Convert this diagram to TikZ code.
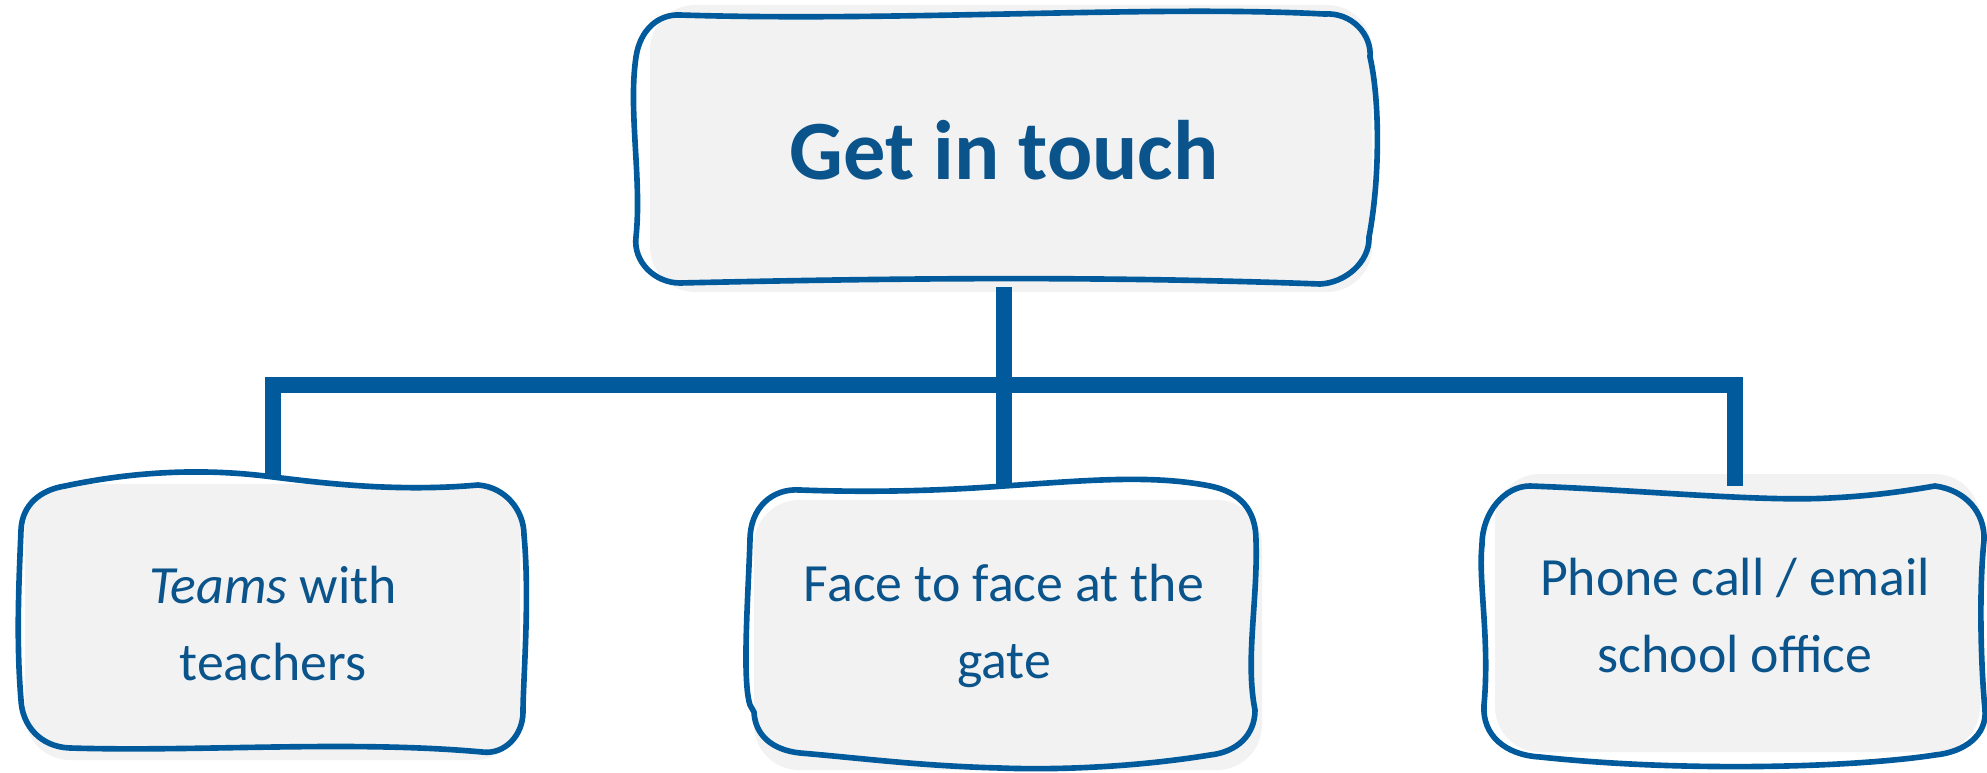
\documentclass[tikz,border=0pt]{standalone}
\usepackage{fontspec}
\setmainfont{Carlito}
\usepackage{xcolor}
\usepackage{tikz}

\definecolor{linkblue}{HTML}{005A9C}
\definecolor{inkblue}{HTML}{0A548B}
\definecolor{paper}{HTML}{F2F2F2}

\begin{document}
\begin{tikzpicture}[x=0.01cm, y=-0.01cm,
    link/.style={draw=linkblue, line width=4.55pt, line join=miter},
    sketch/.style={draw=linkblue, line width=1.6pt, line join=round, line cap=round},
    blob/.style={fill=paper, rounded corners=0.45cm},
    label/.style={text=inkblue, align=center, inner sep=0pt},
    headbox/.style={label, font=\fontsize{24}{29}\selectfont\bfseries, minimum width=7.4cm},
    leafbox/.style={label, font=\fontsize{15.3}{21.9}\selectfont, minimum width=5.06cm}]

    \useasboundingbox (0,0) rectangle (1987,773);

    % ==========================================
    % Grey fill under the sketched boxes
    % ==========================================
    \fill[blob] (650,5) rectangle (1372,292);
    \fill[blob] (25,484) rectangle (520,760);
    \fill[blob] (754,500) rectangle (1262,770);
    \fill[blob] (1495,474) rectangle (1980,752);

    % ==========================================
    % Texts
    % ==========================================
    \node[headbox, minimum height=2.72cm] (touch) at (1004,150) {Get in touch};
    \node[leafbox, minimum height=2.94cm] (teams) at (273,624) {\textit{Teams} with\\teachers};
    \node[leafbox, minimum height=2.8cm] (face) at (1004,626) {Face to face at the\\gate};
    \node[leafbox, minimum height=2.58cm] (phone) at (1735,616) {Phone call / email\\school office};

    % ==========================================
    % Connectors
    % ==========================================
    \coordinate (bar) at (1004,385);
    \draw[link] (touch) -- (face);
    \draw[link] (teams.north) |- (bar) -| (phone.north);

    % ==========================================
    % Sketched outlines
    % ==========================================
    % Get in touch
    \draw[sketch] (680,15) .. controls (900,22) and (1150,5) .. (1324,14)
        .. controls (1352,12) and (1372,35) .. (1370,57)
        .. controls (1380,100) and (1380,180) .. (1369,237)
        .. controls (1370,262) and (1345,283) .. (1320,284)
        .. controls (1100,276) and (900,278) .. (680,283)
        .. controls (655,283) and (633,262) .. (636,237)
        .. controls (642,180) and (628,110) .. (636,57)
        .. controls (640,30) and (658,14) .. (680,15) -- cycle;

    % Teams with teachers
    \draw[sketch] (65,486) .. controls (150,468) and (220,470) .. (273,477)
        .. controls (330,484) and (400,492) .. (478,485)
        .. controls (505,487) and (524,510) .. (524,535)
        .. controls (530,600) and (523,680) .. (523,712)
        .. controls (523,735) and (505,755) .. (482,752)
        .. controls (350,740) and (200,752) .. (70,748)
        .. controls (40,747) and (22,725) .. (21,700)
        .. controls (16,640) and (19,580) .. (21,530)
        .. controls (22,505) and (40,490) .. (65,486) -- cycle;

    % Face to face at the gate
    \draw[sketch] (800,490) .. controls (880,493) and (950,490) .. (1004,486)
        .. controls (1080,481) and (1150,474) .. (1210,486)
        .. controls (1240,492) and (1256,510) .. (1256,540)
        .. controls (1258,600) and (1245,660) .. (1255,710)
        .. controls (1255,735) and (1237,752) .. (1210,755)
        .. controls (1130,768) and (1050,770) .. (1000,768)
        .. controls (920,766) and (860,758) .. (800,753)
        .. controls (772,750) and (755,735) .. (754,712)
        -- (750,705)
        .. controls (742,680) and (748,600) .. (750,540)
        .. controls (750,508) and (772,488) .. (800,490) -- cycle;

    % Phone call / email school office
    \draw[sketch] (1530,486) .. controls (1640,490) and (1760,502) .. (1830,498)
        .. controls (1870,496) and (1900,492) .. (1935,486)
        .. controls (1965,490) and (1985,512) .. (1984,540)
        .. controls (1978,600) and (1982,680) .. (1985,710)
        .. controls (1987,735) and (1965,752) .. (1935,755)
        .. controls (1850,768) and (1680,772) .. (1540,757)
        .. controls (1505,755) and (1482,735) .. (1484,705)
        .. controls (1490,640) and (1478,580) .. (1482,545)
        .. controls (1482,512) and (1505,486) .. (1530,486) -- cycle;

\end{tikzpicture}
\end{document}
